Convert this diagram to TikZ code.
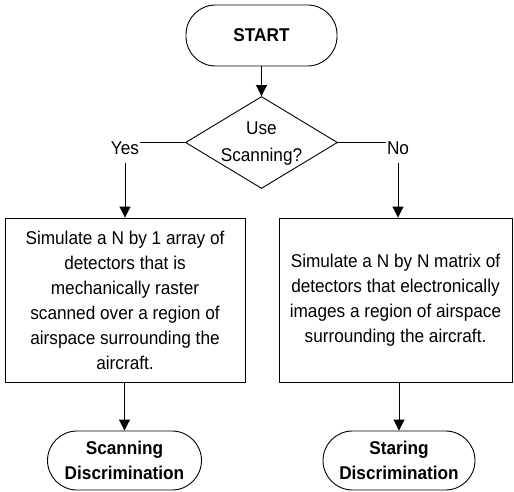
\documentclass[tikz,border=0pt]{standalone}
\usepackage{fontspec}
\setmainfont{Liberation Sans}[FakeStretch=0.93]
\usetikzlibrary{shapes.geometric,arrows.meta}
\begin{document}
\begin{tikzpicture}[x=1pt,y=-1pt,
  every node/.style={font=\fontsize{18.5}{25}\selectfont},
  line/.style={draw=black,line width=0.9pt},
  arr/.style={line,-{Triangle[length=11pt,width=11pt]}},
  term/.style={line,rectangle,rounded corners=29.5pt,align=center,inner sep=0pt,
    font=\fontsize{18.5}{25}\selectfont\bfseries},
  procbox/.style={line,rectangle,align=center,inner sep=0pt,minimum height=164pt},
  decbox/.style={line,diamond,align=center,inner sep=0pt,minimum width=152pt,minimum height=92pt},
  lbl/.style={inner sep=1pt}]
\useasboundingbox (0,0) rectangle (514,492);
\node[term,minimum width=151pt,minimum height=61pt] (start) at (261.5,35.5) {START};
\node[decbox] (dec) at (261.5,142.5) {};
\node[align=center,inner sep=0pt,font=\fontsize{18.5}{27}\selectfont] (dectext) at (261.5,144) {Use\\Scanning?};
\node[lbl] (yes) at (125,148.5) {Yes};
\node[lbl] (no) at (398,148.5) {No};
\node[procbox,minimum width=240pt] (lbox) at (125,300) {Simulate a N by 1 array of\\detectors that is\\mechanically raster\\scanned over a region of\\airspace surrounding the\\aircraft.};
\node[procbox,minimum width=233pt] (rbox) at (395.5,300) {Simulate a N by N matrix of\\detectors that electronically\\images a region of airspace\\surrounding the aircraft.};
\node[term,minimum width=154pt,minimum height=59pt] (scan) at (124.5,460.5) {Scanning\\Discrimination};
\node[term,minimum width=152pt,minimum height=59pt] (stare) at (399,460.5) {Staring\\Discrimination};
\draw[arr] (start) -- (dec);
\draw[line] (dec.west) -- (yes.east |- dec.west);
\draw[line] (dec.east) -- (no.west |- dec.east);
\draw[arr,shorten <=7pt] (yes.south) -- (yes.south |- lbox.north);
\draw[arr,shorten <=7pt] (no.south) -- (no.south |- rbox.north);
\draw[arr] (lbox.south -| scan.north) -- (scan.north);
\draw[arr] (rbox.south -| stare.north) -- (stare.north);
\end{tikzpicture}
\end{document}
